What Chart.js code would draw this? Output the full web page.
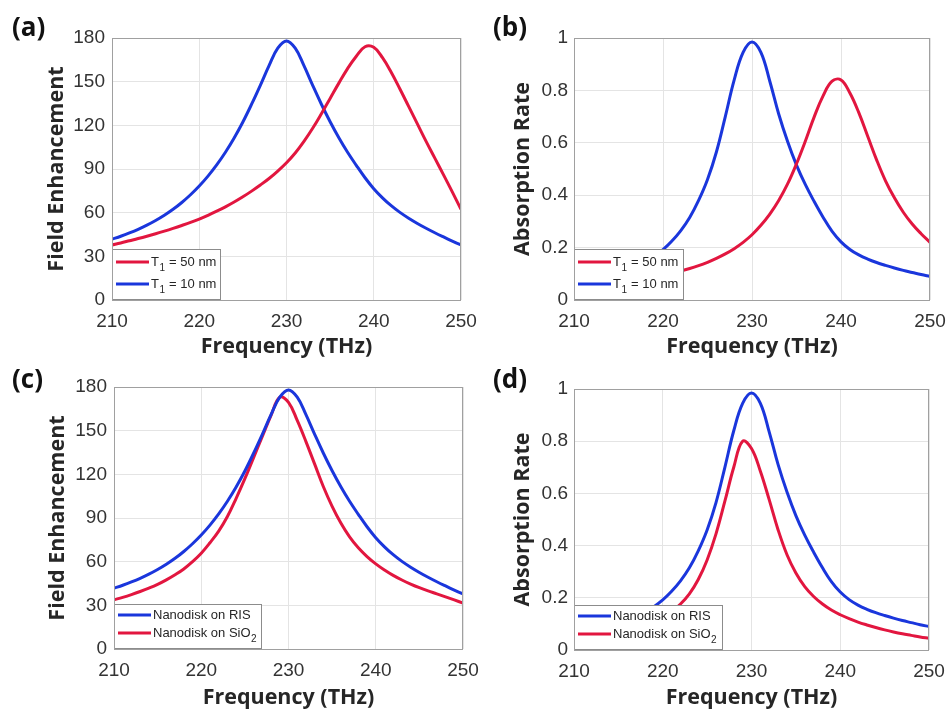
<!DOCTYPE html>
<html>
<head>
<meta charset="utf-8">
<script src="https://cdn.jsdelivr.net/npm/chart.js@4.4.0/dist/chart.umd.min.js"></script>
<style>
  body { margin: 0; background: #fff; width: 947px; height: 711px; position: relative; overflow: hidden; }
  .panel { position: absolute; }
</style>
</head>
<body>
<div class="panel" style="left:0;top:0;width:490px;height:360px"><canvas id="chartA"></canvas></div>
<div class="panel" style="left:473px;top:0;width:474px;height:360px"><canvas id="chartB"></canvas></div>
<div class="panel" style="left:0;top:360px;width:490px;height:351px"><canvas id="chartC"></canvas></div>
<div class="panel" style="left:473px;top:360px;width:474px;height:351px"><canvas id="chartD"></canvas></div>
<script>
// frequency samples (THz)
const freq = [210, 211, 212, 213, 214, 215, 216, 217, 218, 219, 220,
  221, 222, 223, 224, 225, 226, 227, 228, 229, 230,
  231, 232, 233, 234, 235, 236, 237, 238, 239, 240,
  241, 242, 243, 244, 245, 246, 247, 248, 249, 250];

// field enhancement, T1 = 50 nm (a, red)
const fieldT50 = [37.8, 39.2, 40.7, 42.2, 43.8, 45.5, 47.3, 49.2, 51.2, 53.3, 55.6,
  58.2, 61, 64, 67.3, 70.9, 74.8, 79, 83.5, 88.6, 94.3,
  101, 109, 118, 128, 138.5, 149, 159, 167.5, 174, 173.6,
  166.5, 156.5, 145, 133, 121, 109, 97.5, 86, 74.3, 62.3];
// field enhancement, T1 = 10 nm / nanodisk on RIS (a and c, blue)
const fieldT10 = [41.7, 43.8, 46.1, 48.6, 51.4, 54.6, 58.2, 62.3, 67, 72.3, 78.3,
  85.1, 92.8, 101.5, 111.3, 122.3, 134.5, 147.5, 161, 173, 178,
  173, 161, 147.5, 134.5, 122.5, 111.5, 101.5, 92.5, 84, 76.5,
  70.2, 64.8, 60.2, 56.2, 52.6, 49.3, 46.2, 43.3, 40.5, 37.8];
// field enhancement, nanodisk on SiO2 (c, red)
const fieldSiO2 = [33.8, 35.5, 37.4, 39.5, 41.8, 44.4, 47.5, 51, 55, 60, 65.8,
  73, 81, 91, 103.5, 117, 131.5, 146, 160.5, 173, 169.5,
  157, 142.5, 127, 111.5, 98, 86.5, 77, 69.5, 63.5, 58.5,
  54.3, 50.6, 47.4, 44.6, 42.1, 39.9, 37.9, 35.8, 33.7, 31.6];

// absorption rate, T1 = 50 nm (b, red)
const absT50 = [0.052, 0.055, 0.059, 0.063, 0.067, 0.071, 0.076, 0.081, 0.086, 0.092, 0.098,
  0.104, 0.111, 0.12, 0.131, 0.144, 0.159, 0.176, 0.196, 0.22, 0.249,
  0.285, 0.328, 0.38, 0.443, 0.52, 0.607, 0.7, 0.78, 0.835, 0.84,
  0.79, 0.715, 0.625, 0.535, 0.455, 0.39, 0.335, 0.29, 0.253, 0.22];
// absorption rate, T1 = 10 nm / nanodisk on RIS (b and d, blue)
const absT10 = [0.071, 0.076, 0.082, 0.089, 0.097, 0.106, 0.117, 0.13, 0.146, 0.166, 0.192,
  0.225, 0.265, 0.315, 0.38, 0.46, 0.565, 0.7, 0.84, 0.945, 0.985,
  0.945, 0.835, 0.71, 0.605, 0.515, 0.44, 0.375, 0.315, 0.262, 0.222,
  0.193, 0.172, 0.156, 0.143, 0.132, 0.122, 0.113, 0.105, 0.097, 0.09];
// absorption rate, nanodisk on SiO2 (d, red)
const absSiO2 = [0.038, 0.042, 0.046, 0.051, 0.057, 0.064, 0.072, 0.082, 0.094, 0.108, 0.125,
  0.147, 0.176, 0.215, 0.27, 0.345, 0.445, 0.57, 0.7, 0.8, 0.772,
  0.685, 0.575, 0.46, 0.365, 0.295, 0.243, 0.205, 0.176, 0.153, 0.135,
  0.12, 0.107, 0.096, 0.086, 0.077, 0.069, 0.062, 0.056, 0.05, 0.045];

const freqTicks = ['210', '220', '230', '240', '250'];
const fieldTicks = ['0', '30', '60', '90', '120', '150', '180'];
const absTicks = ['0', '0.2', '0.4', '0.6', '0.8', '1'];

// legend labels: [text, subscript, text after]
const legendT50 = ['T', '1', ' = 50 nm'];
const legendT10 = ['T', '1', ' = 10 nm'];
const legendRIS = ['Nanodisk on RIS', '', ''];
const legendSiO2 = ['Nanodisk on SiO', '2', ''];

const RED = '#e2163f';
const BLUE = '#1a36dc';
const TICK_FONT = 'Liberation Sans, Arial, sans-serif';
const TITLE_FONT = 'Open Sans, Liberation Sans, sans-serif';

function pts(values) {
  return freq.map((f, i) => ({ x: f, y: values[i] }));
}

// draws the legend box, the axes box and the panel letter
const panelDeco = {
  id: 'panelDeco',
  afterDatasetsDraw(chart, args, opts) {
    const ctx = chart.ctx;
    const a = chart.chartArea;
    const lg = opts.legend;
    const x0 = a.left, y0 = a.bottom - lg.h;
    ctx.save();
    ctx.fillStyle = '#fff';
    ctx.fillRect(x0, y0, lg.w, lg.h);
    ctx.strokeStyle = '#8c8c8c';
    ctx.lineWidth = 1;
    ctx.strokeRect(x0 + 0.5, y0 + 0.5, lg.w - 1, lg.h - 1);
    chart.data.datasets.forEach((ds, row) => {
      const y = y0 + lg.rows[row];
      ctx.strokeStyle = ds.borderColor;
      ctx.lineWidth = 3;
      ctx.beginPath();
      ctx.moveTo(x0 + 4, y);
      ctx.lineTo(x0 + 37, y);
      ctx.stroke();
      const parts = ds.legendParts;
      let x = x0 + 39;
      ctx.fillStyle = '#262626';
      ctx.textBaseline = 'middle';
      ctx.textAlign = 'left';
      ctx.font = '13px ' + TICK_FONT;
      ctx.fillText(parts[0], x, y);
      x += ctx.measureText(parts[0]).width;
      if (parts[1]) {
        ctx.font = '10px ' + TICK_FONT;
        ctx.fillText(parts[1], x + 0.5, y + 6);
        x += ctx.measureText(parts[1]).width + 1;
      }
      if (parts[2]) {
        ctx.font = '13px ' + TICK_FONT;
        ctx.fillText(parts[2], x, y);
      }
    });
    ctx.strokeStyle = '#a0a0a0';
    ctx.lineWidth = 1;
    ctx.strokeRect(a.left + 0.5, a.top + 0.5, a.right - a.left - 1, a.bottom - a.top);
    ctx.fillStyle = '#111';
    ctx.font = 'bold 26px ' + TITLE_FONT;
    ctx.textBaseline = 'middle';
    ctx.fillText(opts.letter, opts.lx, opts.ly);
    ctx.restore();
  }
};

function createChart(id, p) {
  new Chart(document.getElementById(id), {
    type: 'line',
    data: {
      datasets: p.series.map(s => ({
        label: s.label.join(''),
        legendParts: s.label,
        data: pts(s.values),
        borderColor: s.color,
        borderWidth: 3,
        pointRadius: 0,
        fill: false,
        tension: 0.4
      }))
    },
    options: {
      responsive: true,
      maintainAspectRatio: false,
      animation: false,
      events: [],
      layout: { padding: { left: 0, top: p.top, right: p.right, bottom: 0 } },
      plugins: {
        legend: { display: false },
        tooltip: { enabled: false },
        panelDeco: { letter: p.letter, lx: p.lx, ly: p.ly, legend: p.legend }
      },
      scales: {
        x: {
          type: 'linear', min: 210, max: 250,
          afterFit: s => { s.height = p.xh; s.paddingLeft = 0; s.paddingRight = 0; },
          grid: { color: '#e4e4e4', drawTicks: false },
          border: { display: false },
          ticks: {
            stepSize: 10, padding: p.xtp, color: '#333', maxRotation: 0,
            font: { family: TICK_FONT, size: 19 },
            callback: (v, i) => freqTicks[i]
          },
          title: {
            display: true, text: 'Frequency (THz)', color: '#262626',
            font: { family: TITLE_FONT, size: 21.5, weight: 'bold', lineHeight: 1.2 },
            padding: { top: 0, bottom: p.xtb }
          }
        },
        y: {
          min: 0, max: p.ymax,
          afterFit: s => { s.width = p.left; s.paddingTop = 0; s.paddingBottom = 0; },
          grid: { color: '#e4e4e4', drawTicks: false },
          border: { display: false },
          ticks: {
            stepSize: p.ystep, padding: p.ytp, color: '#333',
            font: { family: TICK_FONT, size: 19 },
            callback: (v, i) => p.yticks[i]
          },
          title: {
            display: true, text: p.ytitle, color: '#262626',
            font: { family: TITLE_FONT, size: 21.5, weight: 'bold', lineHeight: 1.2 },
            padding: { top: p.ytt, bottom: 0 }
          }
        }
      }
    },
    plugins: [panelDeco]
  });
}

window.onload = function () {
  createChart('chartA', {
    letter: '(a)', lx: 12, ly: 29,
    top: 38, right: 29, left: 112, xh: 60, xtp: 10, xtb: 0, ytp: 7, ytt: 44,
    ymax: 180, ystep: 30, yticks: fieldTicks, ytitle: 'Field Enhancement',
    legend: { w: 109, h: 51, rows: [13, 35] },
    series: [
      { label: legendT50, values: fieldT50, color: RED },
      { label: legendT10, values: fieldT10, color: BLUE }
    ]
  });
  createChart('chartB', {
    letter: '(b)', lx: 20, ly: 29,
    top: 38, right: 17, left: 101, xh: 60, xtp: 10, xtb: 0, ytp: 6, ytt: 37,
    ymax: 1, ystep: 0.2, yticks: absTicks, ytitle: 'Absorption Rate',
    legend: { w: 110, h: 51, rows: [13, 35] },
    series: [
      { label: legendT50, values: absT50, color: RED },
      { label: legendT10, values: absT10, color: BLUE }
    ]
  });
  createChart('chartC', {
    letter: '(c)', lx: 12, ly: 21,
    top: 27, right: 27, left: 114, xh: 62, xtp: 10, xtb: 0, ytp: 7, ytt: 45,
    ymax: 180, ystep: 30, yticks: fieldTicks, ytitle: 'Field Enhancement',
    legend: { w: 148, h: 45, rows: [11, 29] },
    series: [
      { label: legendRIS, values: fieldT10, color: BLUE },
      { label: legendSiO2, values: fieldSiO2, color: RED }
    ]
  });
  createChart('chartD', {
    letter: '(d)', lx: 20, ly: 21,
    top: 29, right: 18, left: 101, xh: 61, xtp: 10, xtb: 0, ytp: 6, ytt: 37,
    ymax: 1, ystep: 0.2, yticks: absTicks, ytitle: 'Absorption Rate',
    legend: { w: 149, h: 45, rows: [11, 29] },
    series: [
      { label: legendRIS, values: absT10, color: BLUE },
      { label: legendSiO2, values: absSiO2, color: RED }
    ]
  });
};
</script>
</body>
</html>
